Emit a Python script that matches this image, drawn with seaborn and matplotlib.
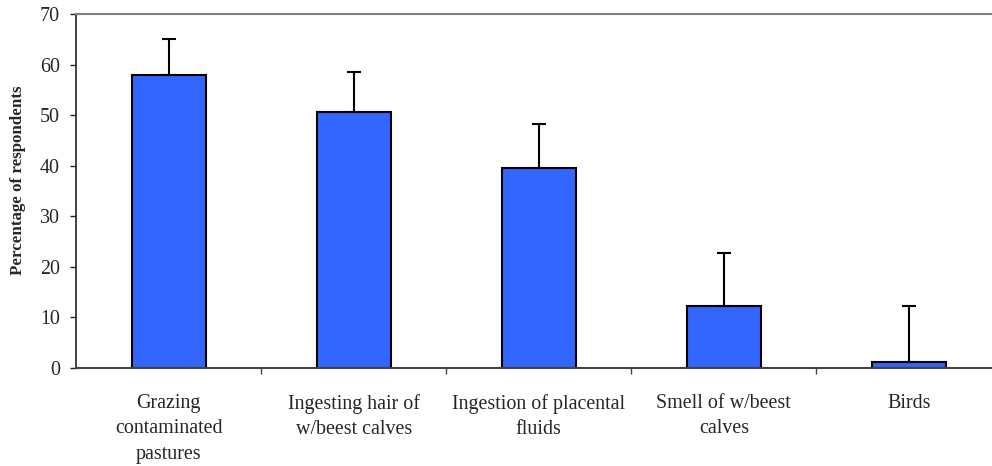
import numpy as np
import pandas as pd
import seaborn as sns
import matplotlib.pyplot as plt
from matplotlib.ticker import FixedLocator

categories = ["Grazing\ncontaminated\npastures",
              "Ingesting hair of\nw/beest calves",
              "Ingestion of placental\nfluids",
              "Smell of w/beest\ncalves",
              "Birds"]
percent = [58.0, 50.6, 39.5, 12.3, 1.1]
error_up = [7.2, 7.9, 8.7, 10.4, 11.1]
y_ticks = [0, 10, 20, 30, 40, 50, 60, 70]

sns.set_style("white")
plt.rcParams['font.family'] = ['Liberation Serif', 'DejaVu Serif']

df = pd.DataFrame({"cause": categories, "pct": percent})

fig = plt.figure(figsize=(9.92, 4.66), dpi=100)
ax = fig.add_axes([76 / 992, 98.3 / 466, 925.5 / 992, 353.4 / 466])

sns.barplot(data=df, x="cause", y="pct", color="#3366FF", saturation=1,
            edgecolor="black", linewidth=1.5, width=0.4, ax=ax)
xpos = np.arange(len(categories))
ax.errorbar(xpos, percent, yerr=[np.zeros(len(percent)), error_up], fmt="none",
            ecolor="black", elinewidth=1.5, capsize=4.7, capthick=1.5)

ax.set_xlim(-0.5, len(categories) - 0.5)
ax.set_ylim(0, 70)
ax.set_yticks(y_ticks)
ax.set_xticks(xpos, categories, fontsize=14.4, linespacing=1.45)
ax.set_xlabel("")
ax.set_ylabel("Percentage of respondents", fontsize=12.2, fontweight="bold")
ax.yaxis.set_label_coords(-0.054, 0.531)

ax.tick_params(axis="y", labelsize=14.4, length=4.5, width=1, direction="out",
               left=True, color="#222222", pad=7)
ax.tick_params(axis="x", which="major", length=0, pad=19)
ax.xaxis.set_minor_locator(FixedLocator(xpos[:-1] + 0.5))
ax.tick_params(axis="x", which="minor", length=4.5, width=1, direction="out",
               bottom=True, color="#444444")

ax.spines["left"].set_color("#222222")
ax.spines["left"].set_linewidth(1.2)
ax.spines["bottom"].set_color("#444444")
ax.spines["bottom"].set_linewidth(1.5)
ax.spines["top"].set_color("#808080")
ax.spines["top"].set_linewidth(1.5)
ax.spines["right"].set_visible(False)

fig.savefig("out.png", dpi=100)
